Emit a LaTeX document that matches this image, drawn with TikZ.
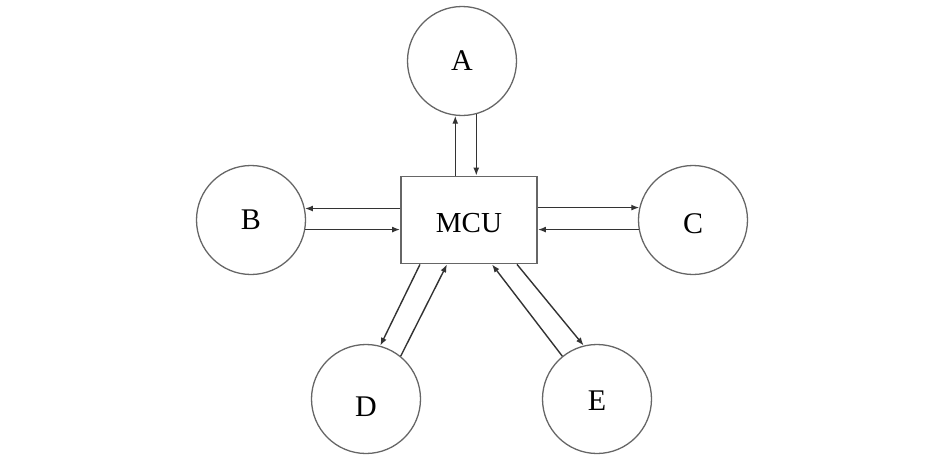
\documentclass[tikz,border=0pt]{standalone}
\usepackage{fontspec}
\setmainfont{Liberation Serif}
\usetikzlibrary{arrows.meta}
\tikzset{
  unit/.style   = {shape=circle, draw=black!60, line width=1.3pt,
                   minimum size=109pt, inner sep=0pt,
                   font=\fontsize{30}{36}\selectfont},
  mcubox/.style = {shape=rectangle, draw=black!60, line width=1.8pt,
                   minimum width=136pt, minimum height=87pt, inner sep=0pt,
                   font=\fontsize{29}{35}\selectfont},
  link/.style   = {draw=black!80, line width=1.4pt,
                   -{Latex[length=8pt,width=6pt]}}
}
\newcommand{\lowlabel}[2]{\raisebox{-#1}[\height][0pt]{#2}}

\begin{document}
\begin{tikzpicture}[x=1pt,y=-1pt]
 \useasboundingbox (0,0) rectangle (946,458);

 \node [mcubox] (mcu) at (469,220) {\lowlabel{3pt}{MCU}};
 \node [unit] (a) at (462,61)  {A};
 \node [unit] (b) at (251,220) {B};
 \node [unit] (c) at (693,220) {\lowlabel{4pt}{C}};
 \node [unit] (d) at (366,399) {\lowlabel{8pt}{D}};
 \node [unit] (e) at (597,399) {\lowlabel{2pt}{E}};

 % MCU <-> A
 \draw [link] (a.263 |- mcu.north) -- (a.263);
 \draw [link] (a.285) -- (a.285 |- mcu.north);
 % MCU <-> B
 \draw [link] (mcu.west |- b.12) -- (b.12);
 \draw [link] (b.-10) -- (b.-10 -| mcu.west);
 % MCU <-> C
 \draw [link] (mcu.east |- c.167) -- (c.167);
 \draw [link] (c.190) -- (c.190 -| mcu.east);
 % MCU <-> D
 \draw [link] ([xshift=-49pt]mcu.south) -- (d.75);
 \draw [link] (d.51) -- ([xshift=-22pt]mcu.south);
 % MCU <-> E
 \draw [link] (e.129) -- ([xshift=23pt]mcu.south);
 \draw [link] ([xshift=48pt]mcu.south) -- (e.104);
\end{tikzpicture}
\end{document}
